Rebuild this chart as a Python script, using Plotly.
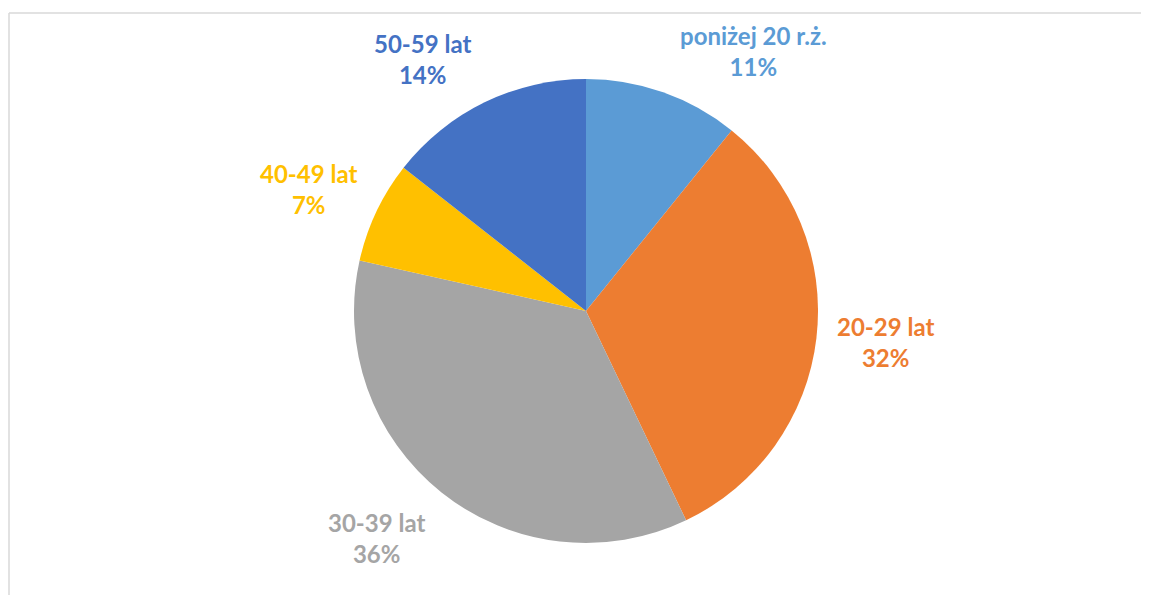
import plotly.graph_objects as go

categories = ["poniżej 20 r.ż.", "20-29 lat", "30-39 lat", "40-49 lat", "50-59 lat"]
values = [10.8, 32.1, 35.6, 7.1, 14.4]
colors = ["#5B9BD5", "#ED7D31", "#A5A5A5", "#FFC000", "#4472C4"]

# page body has an 8px margin; work in window pixels and convert
OFF = 8
W, H = 1149 - 2 * OFF, 603 - 2 * OFF

def px_x(x):
    return (x - OFF) / W

def px_y(y):
    return 1 - (y - OFF) / H

# label block centres in window pixels (layout)
label_pos = [(753, 51), (885, 342), (376, 538), (308, 189), (422, 59)]

cx, cy, r = 586, 311, 232

fig = go.Figure(go.Pie(
    labels=categories,
    values=values,
    marker=dict(colors=colors, line=dict(width=0)),
    sort=False,
    direction="clockwise",
    rotation=0,
    textinfo="none",
    hoverinfo="label+percent",
    showlegend=False,
    domain=dict(x=[px_x(cx - r), px_x(cx + r)], y=[px_y(cy + r), px_y(cy - r)]),
))

total = sum(values)
for cat, val, col, (lx, ly) in zip(categories, values, colors, label_pos):
    fig.add_annotation(
        x=px_x(lx), y=px_y(ly), xref="paper", yref="paper",
        text=f"<b>{cat}<br>{round(100 * val / total)}%</b>",
        showarrow=False, align="center", xanchor="center", yanchor="middle",
        font=dict(family="Lato, 'Open Sans', sans-serif", size=24, color=col),
    )

# chart-area border (top and left visible)
fig.add_shape(type="line", xref="paper", yref="paper",
              x0=px_x(9), x1=1.0, y0=px_y(13), y1=px_y(13),
              line=dict(color="#D9D9D9", width=1.5))
fig.add_shape(type="line", xref="paper", yref="paper",
              x0=px_x(9), x1=px_x(9), y0=0, y1=px_y(13),
              line=dict(color="#D9D9D9", width=1.5))

fig.update_layout(
    width=W, height=H,
    margin=dict(l=0, r=0, t=0, b=0),
    paper_bgcolor="white", plot_bgcolor="white",
)

fig.write_html("out.html")
